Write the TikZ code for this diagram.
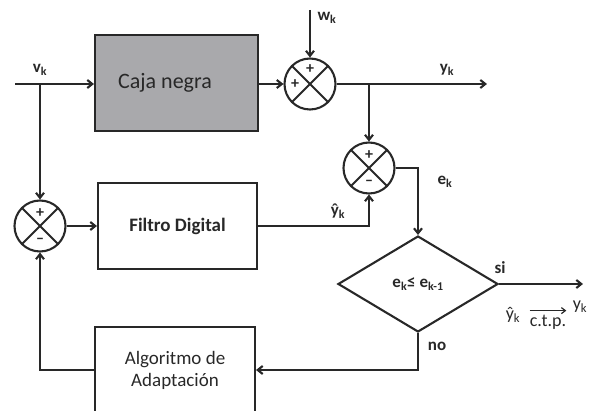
\documentclass[tikz,border=0pt]{standalone}
\usepackage{fontspec}
\setmainfont{Carlito}
\usetikzlibrary{arrows.meta,positioning,shapes.geometric}
\definecolor{lnkgray} {RGB}{40,40,40}
\definecolor{cajagray}{RGB}{169,169,172}
\tikzset{
  blk/.style={draw=lnkgray,line width=2.1pt,align=center,inner sep=0pt,
    text=lnkgray},
  blkgray/.style={blk,fill=cajagray},
  sumc/.style={circle,draw=lnkgray,line width=2.1pt,minimum size=51pt,
    inner sep=0pt,
    path picture={\draw[lnkgray,line width=2.1pt]
      (path picture bounding box.north west)--(path picture bounding box.south east)
      (path picture bounding box.north east)--(path picture bounding box.south west);}},
  sgn/.style={font=\fontsize{16}{16}\selectfont\bfseries,text=lnkgray,inner sep=0pt},
  dec/.style={diamond,draw=lnkgray,line width=2.1pt,minimum width=160pt,
    minimum height=96pt,inner sep=0pt,text=lnkgray,
    font=\fontsize{17}{17}\selectfont\bfseries},
  arr/.style={-{Straight Barb[length=5pt,width=8pt]},line width=2.1pt,draw=lnkgray},
  ln/.style={line width=2.1pt,draw=lnkgray},
  lbl/.style={font=\fontsize{17}{17}\selectfont\bfseries,text=lnkgray,inner sep=0pt},
}
\begin{document}
\begin{tikzpicture}[x=1pt,y=-1pt]
  \clip (0,0) rectangle (590,411);
  % blocks
  \node[blkgray,minimum width=163pt,minimum height=96pt,
        font=\fontsize{22}{22}\selectfont](caja) at (176.5,83)
    {\raisebox{-5pt}{Caja negra}\hspace*{23pt}};
  \node[blk,minimum width=159pt,minimum height=86pt,
        font=\fontsize{19}{19}\selectfont\bfseries](filtro) at (177.5,226)
    {Filtro Digital};
  \node[blk,minimum width=160pt,minimum height=86pt,
        font=\fontsize{19}{22}\selectfont](algo) at (175,370)
    {Algoritmo de\\Adaptación};
  % sumadores
  \node[sumc](s1) at (310,84) {};
  \node[sumc](s2) at (369,168) {};
  \node[sumc](s3) at (40,226) {};
  \node[sgn](s1a) at ([yshift=15pt]s1.center) {+};
  \node[sgn](s1b) at ([xshift=-15pt]s1.center) {+};
  \node[sgn](s2a) at ([yshift=13pt]s2.center) {+};
  \node[sgn](s2b) at ([yshift=-15pt]s2.center) {–};
  \node[sgn](s3a) at ([yshift=13pt]s3.center) {+};
  \node[sgn](s3b) at ([yshift=-15pt]s3.center) {–};
  % decision
  \node[dec](cmp) at (418,284) {e\textsubscript{k}≤ e\textsubscript{k-1}};

  \coordinate (vin) at (15,84);
  \coordinate (vb) at (40,84);
  \coordinate (win) at (310,10);
  \coordinate (yout) at (487,84);
  \coordinate (yb) at (369,84);
  \coordinate (sout) at (583,284);

  % connections
  \draw[arr](vin) -- (vin -| caja.west);
  \draw[arr](vb) -- (s3.north);
  \draw[arr](caja.east |- s1) -- (s1.west);
  \draw[arr](win) -- (s1.north);
  \draw[arr](s1.east) -- (yout);
  \draw[arr](yb) -- (s2.north);
  \draw[arr](s2.east) -| (cmp.north);
  \draw[arr](s3.east) -- (s3 -| filtro.west);
  \draw[arr](filtro.east) -| (s2.south);
  \draw[arr](cmp.east) -- (sout);
  \draw[arr](cmp.south) |- (algo.east);
  \draw[arr](algo.west) -| (s3.south);

  % labels
  \node[lbl](vlbl) at (40,70) {v\textsubscript{k}};
  \node[lbl](wlbl) at (327,18) {w\textsubscript{k}};
  \node[lbl](ylbl) at (447,70) {y\textsubscript{k}};
  \node[lbl](elbl) at (445,182) {e\textsubscript{k}};
  \node[lbl](yhlbl) at (338,211) {ŷ\textsubscript{k}};
  \node[lbl](silbl) at (500,268) {si};
  \node[lbl](nolbl) at (437,346) {no};
  \node[lbl,font=\fontsize{18}{18}\selectfont](yh2) at (513,315) {ŷ\textsubscript{k}};
  \node[lbl,font=\fontsize{18}{18}\selectfont](ctp) at (548,322) {c.t.p.};
  \node[lbl,font=\fontsize{18}{18}\selectfont](yk2) at (580,307) {y\textsubscript{k}};
  \draw[-{Straight Barb[length=4pt,width=6pt]},line width=1.2pt,draw=lnkgray]
    ([yshift=4pt]ctp.north west) -- ([yshift=4pt]ctp.north east);
\end{tikzpicture}
\end{document}
